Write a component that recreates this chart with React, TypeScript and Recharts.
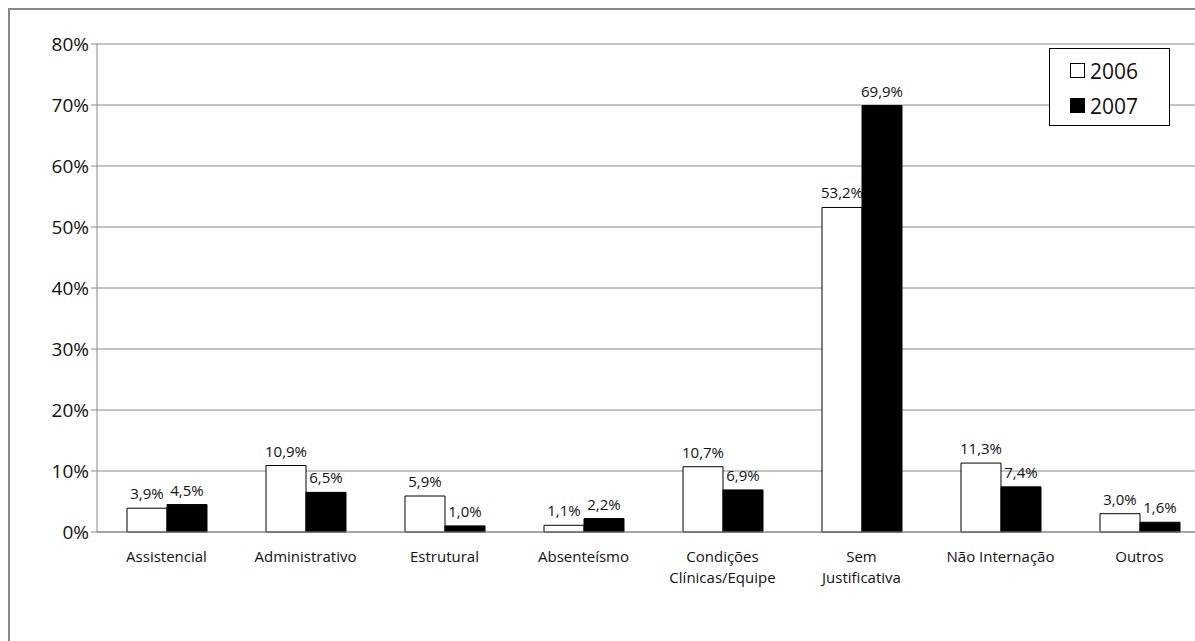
import React from "react";
import { BarChart, Bar, XAxis, YAxis, CartesianGrid, LabelList } from "recharts";

const categories = ["Assistencial", "Administrativo", "Estrutural", "Absenteísmo", "Condições\nClínicas/Equipe", "Sem\nJustificativa", "Não Internação", "Outros"];
const v2006 = [3.9, 10.9, 5.9, 1.1, 10.7, 53.2, 11.3, 3.0];
const v2007 = [4.5, 6.5, 1.0, 2.2, 6.9, 69.9, 7.4, 1.6];
const yTicks = [0, 10, 20, 30, 40, 50, 60, 70, 80];
const seriesNames = ["2006", "2007"];

const data = categories.map((c, i) => ({ cat: c, a: v2006[i], b: v2007[i] }));
const FONT = "'Open Sans', 'DejaVu Sans', sans-serif";
const fmt = (v: number) => v.toFixed(1).replace(".", ",") + "%";

const XTick = (props: any) => {
  const { x, y, payload } = props;
  const lines = String(payload.value).split("\n");
  return (
    <text x={x} y={y + 22} textAnchor="middle" fontSize={15} fontWeight={500} fontFamily={FONT} fill="#111">
      {lines.map((l, i) => (
        <tspan key={i} x={x} dy={i === 0 ? 0 : 21}>{l}</tspan>
      ))}
    </text>
  );
};

export default function App() {
  return (
    <div style={{ position: "fixed", left: 0, top: 0, width: 1195, height: 641, overflow: "hidden", background: "#fff" }}>
      <div style={{ position: "absolute", left: 8, top: 8, width: 1200, height: 640, border: "2px solid #888", boxSizing: "border-box" }} />
      <div style={{ position: "absolute", left: 0, top: 0 }}>
        <BarChart width={1220} height={641} data={data} margin={{ top: 44, right: 11, left: 10, bottom: 49 }} barGap={0} barSize={40}>
          <CartesianGrid vertical={false} stroke="#888" />
          <XAxis dataKey="cat" interval={0} tick={<XTick />} tickLine={false} axisLine={{ stroke: "#888" }} height={60} />
          <YAxis domain={[0, 80]} ticks={yTicks} width={87} tickFormatter={(v) => v + "%"} tick={{ fontSize: 19, fontFamily: FONT, fill: "#111" }} tickLine={{ stroke: "#888" }} axisLine={{ stroke: "#888" }} />
          <Bar dataKey="a" fill="#fff" stroke="#000" strokeWidth={1} isAnimationActive={false}>
            <LabelList dataKey="a" position="top" offset={9} formatter={(v: any) => fmt(v)} style={{ fontSize: 15, fontFamily: FONT, fill: "#111" }} />
          </Bar>
          <Bar dataKey="b" fill="#000" stroke="#000" strokeWidth={1} isAnimationActive={false}>
            <LabelList dataKey="b" position="top" offset={9} formatter={(v: any) => fmt(v)} style={{ fontSize: 15, fontFamily: FONT, fill: "#111" }} />
          </Bar>
        </BarChart>
      </div>
      <div style={{ position: "absolute", left: 1049, top: 48, width: 121, height: 78, border: "1px solid #000", boxSizing: "border-box", background: "#fff", fontFamily: FONT, fontSize: 21, color: "#111", paddingLeft: 20, paddingTop: 4 }}>
        {seriesNames.map((n, i) => (
          <div key={n} style={{ display: "flex", alignItems: "center", height: 35 }}>
            <span style={{ display: "inline-block", width: 13, height: 13, border: "1px solid #000", background: i === 0 ? "#fff" : "#000", marginRight: 5 }} />
            {n}
          </div>
        ))}
      </div>
    </div>
  );
}
